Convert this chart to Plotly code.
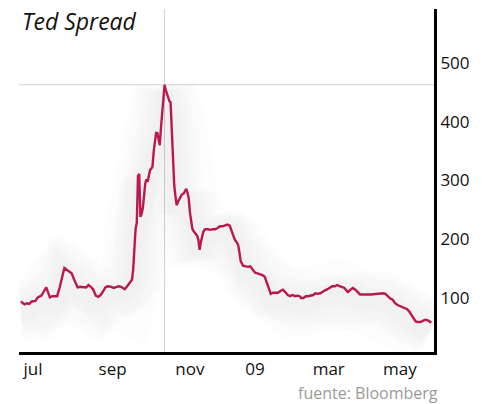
import plotly.graph_objects as go

dates = [
    "2008-06-21", "2008-06-24", "2008-06-26", "2008-06-28", "2008-06-30", "2008-07-03", "2008-07-05",
    "2008-07-08", "2008-07-10", "2008-07-12", "2008-07-15", "2008-07-17", "2008-07-21", "2008-07-23",
    "2008-07-27", "2008-07-29", "2008-07-31", "2008-08-02", "2008-08-04", "2008-08-07", "2008-08-09",
    "2008-08-12", "2008-08-14", "2008-08-16", "2008-08-18", "2008-08-20", "2008-08-22", "2008-08-24",
    "2008-08-26", "2008-08-28", "2008-08-30", "2008-09-01", "2008-09-04", "2008-09-06", "2008-09-08",
    "2008-09-10", "2008-09-12", "2008-09-15", "2008-09-17", "2008-09-19", "2008-09-21", "2008-09-22",
    "2008-09-23", "2008-09-24", "2008-09-25", "2008-09-26", "2008-09-27", "2008-09-28", "2008-09-29",
    "2008-09-30", "2008-10-01", "2008-10-02", "2008-10-03", "2008-10-04", "2008-10-05", "2008-10-06",
    "2008-10-07", "2008-10-08", "2008-10-09", "2008-10-10", "2008-10-11", "2008-10-12", "2008-10-13",
    "2008-10-14", "2008-10-15", "2008-10-16", "2008-10-17", "2008-10-18", "2008-10-19", "2008-10-20",
    "2008-10-21", "2008-10-22", "2008-10-23", "2008-10-24", "2008-10-25", "2008-10-26", "2008-10-27",
    "2008-10-28", "2008-10-29", "2008-10-30", "2008-10-31", "2008-11-01", "2008-11-02", "2008-11-03",
    "2008-11-04", "2008-11-05", "2008-11-06", "2008-11-07", "2008-11-08", "2008-11-09", "2008-11-10",
    "2008-11-11", "2008-11-12", "2008-11-13", "2008-11-14", "2008-11-15", "2008-11-16", "2008-11-17",
    "2008-11-18", "2008-11-19", "2008-11-20", "2008-11-21", "2008-11-23", "2008-11-25", "2008-11-27",
    "2008-11-29", "2008-12-01", "2008-12-03", "2008-12-05", "2008-12-07", "2008-12-09", "2008-12-11",
    "2008-12-13", "2008-12-15", "2008-12-17", "2008-12-18", "2008-12-19", "2008-12-20", "2008-12-22",
    "2008-12-24", "2008-12-26", "2008-12-28", "2008-12-30", "2009-01-01", "2009-01-03", "2009-01-05",
    "2009-01-07", "2009-01-09", "2009-01-11", "2009-01-13", "2009-01-14", "2009-01-16", "2009-01-18",
    "2009-01-20", "2009-01-22", "2009-01-24", "2009-01-26", "2009-01-28", "2009-01-30", "2009-02-01",
    "2009-02-03", "2009-02-05", "2009-02-07", "2009-02-08", "2009-02-10", "2009-02-12", "2009-02-14",
    "2009-02-16", "2009-02-18", "2009-02-20", "2009-02-22", "2009-02-24", "2009-02-26", "2009-02-28",
    "2009-03-02", "2009-03-04", "2009-03-06", "2009-03-08", "2009-03-10", "2009-03-12", "2009-03-14",
    "2009-03-16", "2009-03-18", "2009-03-19", "2009-03-21", "2009-03-23", "2009-03-25", "2009-03-27",
    "2009-03-29", "2009-04-07", "2009-04-17", "2009-04-19", "2009-04-21", "2009-04-23", "2009-04-25",
    "2009-04-27", "2009-04-29", "2009-05-01", "2009-05-03", "2009-05-05", "2009-05-07", "2009-05-09",
    "2009-05-11", "2009-05-13", "2009-05-14", "2009-05-16", "2009-05-18", "2009-05-20", "2009-05-22",
    "2009-05-24", "2009-05-26", "2009-05-27",
]

ted_spread = [
    94, 89, 91, 90, 94, 95, 101,
    104, 111, 118, 101, 103, 103, 117,
    151, 148, 144, 142, 132, 118, 119,
    119, 118, 122, 119, 114, 104, 102,
    105, 111, 118, 120, 119, 117, 118,
    120, 119, 115, 120, 125, 131, 148,
    177, 218, 228, 308, 311, 238, 243,
    253, 274, 295, 302, 298, 308, 318,
    320, 324, 349, 366, 381, 381, 371,
    360, 389, 415, 437, 463, 454, 447,
    440, 435, 433, 377, 331, 292, 274,
    258, 263, 268, 272, 275, 277, 278,
    282, 286, 279, 270, 246, 229, 218,
    214, 211, 207, 206, 199, 182, 194,
    206, 212, 216, 217, 217, 216, 217,
    217, 219, 222, 222, 223, 225, 223,
    211, 200, 194, 190, 178, 163, 155,
    154, 153, 154, 149, 143, 142, 141,
    139, 136, 124, 112, 107, 109, 109,
    109, 112, 114, 110, 105, 103, 105,
    103, 104, 103, 100, 100, 103, 103,
    104, 105, 108, 107, 108, 111, 113,
    115, 118, 120, 120, 122, 120, 118,
    117, 112, 110, 114, 117, 114, 109,
    106, 106, 108, 107, 103, 99, 97,
    91, 88, 86, 85, 83, 81, 76,
    69, 63, 60, 59, 59, 61, 63,
    62, 59, 58,
]

# tick label positions as placed in the original graphic
x_tick_dates = ["2008-07-01", "2008-09-05", "2008-11-08", "2009-01-01", "2009-03-03", "2009-05-01"]
x_tick_labels = ["jul", "sep", "nov", "09", "mar", "may"]
y_tick_vals = [100, 200, 300, 400, 500]

peak_idx = ted_spread.index(max(ted_spread))
peak_date = dates[peak_idx]
peak_value = ted_spread[peak_idx]

x_range = ["2008-06-19 10:00", "2009-05-29 05:00"]
y_range = [8, 592]
shadow_shift = 12

fig = go.Figure()

# soft shadow under the line (drawn on a slightly shifted overlay axis)
for w in [64, 56, 48, 40, 32, 24, 16]:
    fig.add_trace(go.Scatter(
        x=dates, y=ted_spread, mode="lines", yaxis="y2",
        line=dict(color="rgba(70,60,65,0.011)", width=w),
        hoverinfo="skip", showlegend=False,
    ))

fig.add_trace(go.Scatter(
    x=dates, y=ted_spread, mode="lines",
    line=dict(color="#c8184e", width=2.4),
    showlegend=False,
))

fig.update_layout(
    width=492, height=404,
    margin=dict(l=19, r=58, t=9, b=52),
    paper_bgcolor="white", plot_bgcolor="white",
    font=dict(family="Open Sans", color="#111111", size=17),
    xaxis=dict(
        type="date", range=x_range,
        tickvals=x_tick_dates, ticktext=x_tick_labels,
        showgrid=False, zeroline=False,
        showline=True, linecolor="black", linewidth=3,
        ticks="", ticklabelstandoff=0,
        tickfont=dict(size=17, family="Open Sans", color="#111111"),
    ),
    yaxis=dict(
        range=y_range, side="right",
        tickvals=y_tick_vals,
        showgrid=False, zeroline=False,
        showline=True, linecolor="black", linewidth=3,
        ticks="", ticklabelstandoff=0,
        tickfont=dict(size=17, family="Open Sans", color="#111111"),
    ),
    yaxis2=dict(
        range=[y_range[0] + shadow_shift, y_range[1] + shadow_shift],
        overlaying="y", visible=False,
    ),
    shapes=[
        dict(type="line", xref="x", yref="paper", x0=peak_date, x1=peak_date, y0=0, y1=1,
             line=dict(color="#d2d2d2", width=1), layer="below"),
        dict(type="line", xref="paper", yref="y", x0=0, x1=1, y0=peak_value, y1=peak_value,
             line=dict(color="#d2d2d2", width=1), layer="below"),
    ],
    annotations=[
        dict(text="<i>Ted Spread</i>", xref="paper", yref="paper", x=0.0, y=1.0,
             xanchor="left", yanchor="top", showarrow=False, yshift=6, xshift=1,
             font=dict(size=23, family="Open Sans", color="#111111")),
        dict(text="fuente: Bloomberg", xref="paper", yref="paper", x=1.0, y=0,
             xanchor="right", yanchor="top", showarrow=False, xshift=6, yshift=-28,
             font=dict(size=16, family="Open Sans", color="#9a9a9a")),
    ],
)

fig.write_html("out.html", config={"displayModeBar": False},
               post_script="document.body.style.margin='0';document.body.style.padding='0';")
